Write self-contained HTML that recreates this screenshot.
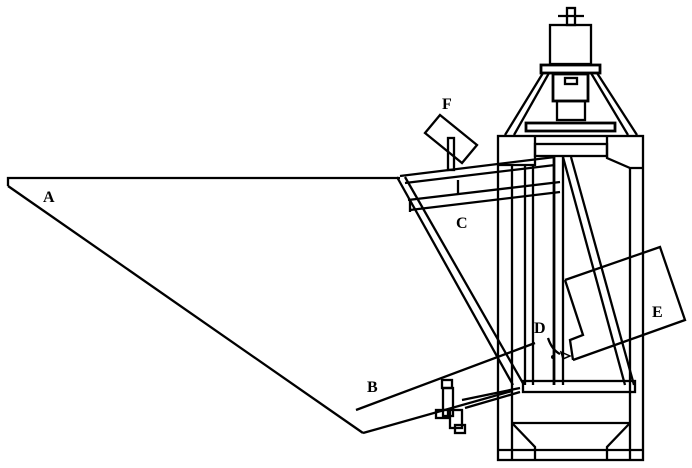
<!DOCTYPE html>
<html><head><style>
html,body{margin:0;padding:0;background:#fff;}
svg{display:block;}
text{font-family:"Liberation Serif",serif;font-weight:bold;font-size:16px;fill:#000;}
</style></head><body>
<svg width="692" height="468" viewBox="0 0 692 468" xmlns="http://www.w3.org/2000/svg">
<g fill="none" stroke="#000" stroke-width="2.3">
<polyline points="8,186 8,178 400,178"/>
<line x1="8" y1="186" x2="363" y2="433"/>
<line x1="363" y1="433" x2="512" y2="391"/>
<line x1="356" y1="410" x2="535" y2="343"/>
<line x1="397" y1="177" x2="513" y2="385"/>
<line x1="405" y1="177" x2="524" y2="385"/>
<line x1="400" y1="176" x2="555" y2="157"/>
<line x1="405" y1="183" x2="555" y2="165"/>
<line x1="408" y1="200" x2="560" y2="182"/>
<line x1="410" y1="210" x2="560" y2="192"/>
<line x1="410" y1="200" x2="410" y2="212"/>
<line x1="458" y1="180" x2="458" y2="195"/>
<rect x="498" y="136" width="145" height="324"/>
<line x1="512" y1="165" x2="512" y2="460"/>
<line x1="630" y1="168" x2="630" y2="460"/>
<polyline points="498,165 535,165 535,136"/>
<polyline points="607,136 607,158 630,168 643,168"/>
<rect x="535" y="144" width="72" height="12"/>
<line x1="525" y1="165" x2="525" y2="385"/>
<line x1="533" y1="165" x2="533" y2="385"/>
<line x1="554" y1="157" x2="554" y2="385" stroke-width="2.8"/>
<line x1="563" y1="157" x2="563" y2="385"/>
<line x1="563" y1="157" x2="625" y2="385"/>
<line x1="571" y1="157" x2="634" y2="385"/>
<rect x="523" y="381" width="112" height="11"/>
<line x1="512" y1="423" x2="630" y2="423"/>
<line x1="498" y1="450" x2="643" y2="450"/>
<polyline points="512,423 535,447 535,460"/>
<polyline points="630,423 607,447 607,460"/>
<line x1="505" y1="135" x2="543" y2="73"/>
<line x1="514" y1="135" x2="549" y2="73"/>
<line x1="637" y1="135" x2="597" y2="73"/>
<line x1="628" y1="135" x2="591" y2="73"/>
<rect x="526" y="123" width="89" height="8" stroke-width="2.8"/>
<rect x="541" y="65" width="59" height="8" stroke-width="2.8"/>
<rect x="550" y="25" width="41" height="39"/>
<rect x="567" y="8" width="8" height="17"/>
<line x1="558" y1="16" x2="584" y2="16"/>
<rect x="553" y="74" width="35" height="27" stroke-width="2.8"/>
<rect x="565" y="78" width="12" height="6"/>
<rect x="557" y="101" width="28" height="19"/>
<polygon points="440,115 477,145 462,163 425,133"/>
<rect x="448" y="138" width="6" height="32"/>
<polyline points="565,280 660,247 685,320 573,360"/>
<polyline points="565,280 583,335 570,340 573,360"/>
<path d="M548,338 q4,12 12,16" />
<rect x="442" y="380" width="10" height="8"/>
<rect x="443" y="388" width="10" height="28"/>
<rect x="436" y="410" width="12" height="8"/>
<rect x="450" y="410" width="12" height="18"/>
<rect x="455" y="425" width="10" height="8"/>
<line x1="462" y1="400" x2="520" y2="388"/>
<line x1="465" y1="408" x2="520" y2="392"/>
</g>
<circle cx="553" cy="357" r="2"/>
<polygon points="561,352 570,356 563,359" fill="none" stroke="#000" stroke-width="1.5"/>
<text x="43" y="202">A</text>
<text x="367" y="392">B</text>
<text x="456" y="228">C</text>
<text x="534" y="333">D</text>
<text x="652" y="317">E</text>
<text x="442" y="109">F</text>
</svg>
</body></html>
